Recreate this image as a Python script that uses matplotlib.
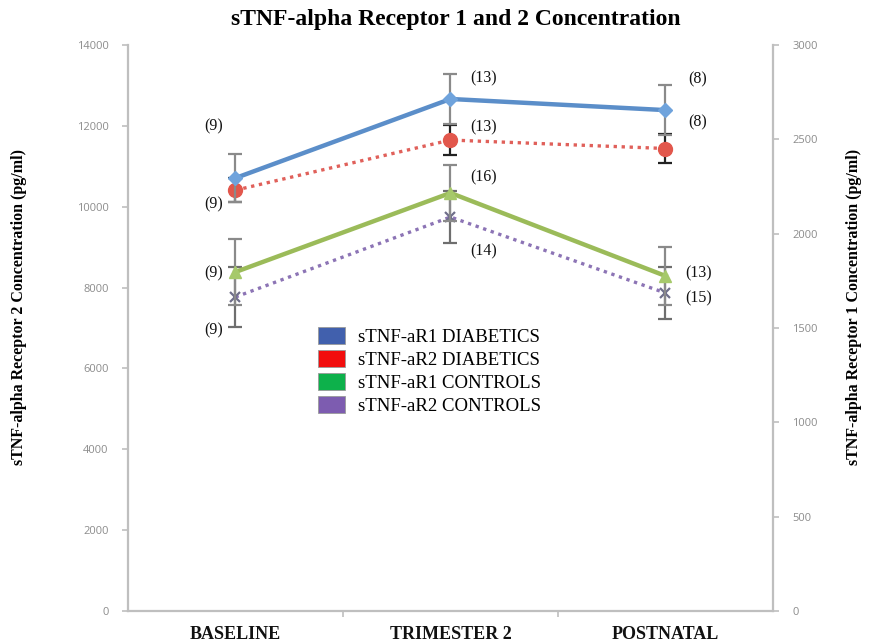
#!/usr/bin/env python3
"""
Line chart of soluble TNF-alpha receptor 1 and 2 concentrations across
pregnancy (baseline, trimester 2, postnatal) for diabetics and controls.

Receptor 2 series are read on the left axis, receptor 1 on the right axis.

Output
------
- out.png
"""

from __future__ import annotations

import matplotlib
matplotlib.use("Agg")
import matplotlib.pyplot as plt
from matplotlib.patches import Patch

# ── Data ────────────────────────────────────────────────────────────────
TIMEPOINTS = ["BASELINE", "TRIMESTER 2", "POSTNATAL"]

# Receptor 1 (right axis, pg/ml)
R1_DIABETICS = [2295, 2714, 2655]
R1_DIABETICS_ERR = [127, 133, 132]
R1_DIABETICS_N = ["(9)", "(13)", "(8)"]

R1_CONTROLS = [1797, 2216, 1776]
R1_CONTROLS_ERR = [175, 148, 154]
R1_CONTROLS_N = ["(9)", "(16)", "(13)"]

# Receptor 2 (left axis, pg/ml)
R2_DIABETICS = [10410, 11650, 11440]
R2_DIABETICS_ERR = [300, 360, 360]
R2_DIABETICS_N = ["(9)", "(13)", "(8)"]

R2_CONTROLS = [7767, 9746, 7866]
R2_CONTROLS_ERR = [740, 640, 650]
R2_CONTROLS_N = ["(9)", "(14)", "(15)"]

LEGEND_LABELS = [
    "sTNF-aR1 DIABETICS",
    "sTNF-aR2 DIABETICS",
    "sTNF-aR1 CONTROLS",
    "sTNF-aR2 CONTROLS",
]

# ── Styling ─────────────────────────────────────────────────────────────
FIG_W, FIG_H, DPI = 8.69, 6.44, 100
SERIF = "Liberation Serif"
TICK_FONT = "Open Sans"
AXIS_GREY = "#bfbfbf"
TICK_GREY = "#8c8c8c"

BLUE_LINE = "#5b8ec9"
RED_LINE = "#e0605a"
GREEN_LINE = "#9bbb59"
PURPLE_LINE = "#8c74b5"

LEGEND_COLORS = ["#4160ad", "#f20d0d", "#0db14b", "#7d5cb0"]

DOTTED = (0, (1, 1.4))


def style_axes(ax, ax2) -> None:
    for a in (ax, ax2):
        a.spines["top"].set_visible(False)
        for side in ("left", "right", "bottom"):
            a.spines[side].set_color(AXIS_GREY)
            a.spines[side].set_linewidth(1.6)
    ax.spines["right"].set_visible(False)
    ax2.spines["left"].set_visible(False)
    ax2.spines["bottom"].set_visible(False)

    ax.set_xlim(-0.5, 2.5)
    ax.set_ylim(0, 14000)
    ax2.set_ylim(0, 3000)
    ax.set_yticks(range(0, 14001, 2000))
    ax2.set_yticks(range(0, 3001, 500))

    # category labels centred, tick marks on the category boundaries
    ax.set_xticks(range(len(TIMEPOINTS)))
    ax.set_xticklabels(TIMEPOINTS, fontsize=13, fontweight="bold",
                       family=SERIF, color="#111111")
    ax.set_xticks([0.5, 1.5], minor=True)
    ax.tick_params(axis="x", which="major", length=0, pad=11)
    ax.tick_params(axis="x", which="minor", length=4, width=1.2,
                   color=AXIS_GREY, direction="out")

    for a in (ax, ax2):
        a.tick_params(axis="y", length=4, width=1.2, color=AXIS_GREY,
                      labelsize=8, labelcolor=TICK_GREY, pad=10)
        for lbl in a.get_yticklabels():
            lbl.set_family(TICK_FONT)

    ax.set_ylabel("sTNF-alpha Receptor 2 Concentration (pg/ml)",
                  fontsize=11.5, fontweight="bold", family=SERIF)
    ax.yaxis.set_label_coords(-0.157, 0.537)
    ax2.set_ylabel("sTNF-alpha Receptor 1 Concentration (pg/ml)",
                   fontsize=11.5, fontweight="bold", family=SERIF,
                   rotation=90)
    ax2.yaxis.set_label_coords(1.113, 0.537)


def draw_series(ax, ax2) -> None:
    x = list(range(len(TIMEPOINTS)))

    ax.errorbar(x, R2_CONTROLS, yerr=R2_CONTROLS_ERR, color=PURPLE_LINE,
                ls=DOTTED, lw=2.4, marker="x", ms=7, mew=1.6, mec="#6f6f8a",
                ecolor="#6e6e6e", elinewidth=1.6, capsize=5, capthick=1.6,
                zorder=3)
    ax.errorbar(x, R2_DIABETICS, yerr=R2_DIABETICS_ERR, color=RED_LINE,
                ls=DOTTED, lw=2.4, marker="o", ms=10, mfc="#e2574c",
                mec="#e2574c", ecolor="#222222", elinewidth=1.6, capsize=5,
                capthick=1.6, zorder=4)

    ax2.errorbar(x, R1_CONTROLS, yerr=R1_CONTROLS_ERR, color=GREEN_LINE,
                 ls="-", lw=3.2, marker="^", ms=9, mfc="#a6c96a",
                 mec="#a6c96a", ecolor="#8a8a8a", elinewidth=1.6, capsize=5,
                 capthick=1.6, zorder=3)
    ax2.errorbar(x, R1_DIABETICS, yerr=R1_DIABETICS_ERR, color=BLUE_LINE,
                 ls="-", lw=3.2, marker="D", ms=7, mfc="#6fa3dc",
                 mec="#6fa3dc", ecolor="#8a8a8a", elinewidth=1.6, capsize=5,
                 capthick=1.6, zorder=4)


def draw_counts(ax, ax2) -> None:
    txt = dict(fontsize=11.5, family=SERIF, color="#111111",
               textcoords="offset points", va="center", ha="center")

    # (dx, dy) offsets in points from each marker
    r1d_off = [(-16, 37), (24, 15), (23, 22)]
    r2d_off = [(-16, -10), (24, 9), (23, 19)]
    r1c_off = [(-16, -1), (24, 11), (24, 2)]
    r2c_off = [(-16, -24), (24, -25), (24, -4)]

    for i in range(len(TIMEPOINTS)):
        ax2.annotate(R1_DIABETICS_N[i], (i, R1_DIABETICS[i]),
                     xytext=r1d_off[i], **txt)
        ax.annotate(R2_DIABETICS_N[i], (i, R2_DIABETICS[i]),
                    xytext=r2d_off[i], **txt)
        ax2.annotate(R1_CONTROLS_N[i], (i, R1_CONTROLS[i]),
                     xytext=r1c_off[i], **txt)
        ax.annotate(R2_CONTROLS_N[i], (i, R2_CONTROLS[i]),
                    xytext=r2c_off[i], **txt)


def main() -> None:
    fig, ax = plt.subplots(figsize=(FIG_W, FIG_H), dpi=DPI)
    fig.subplots_adjust(left=0.1473, right=0.8895, bottom=0.0512, top=0.9301)
    ax2 = ax.twinx()

    style_axes(ax, ax2)
    draw_series(ax, ax2)
    draw_counts(ax, ax2)

    handles = [Patch(facecolor=c, edgecolor="#9a9a9a", linewidth=0.6)
               for c in LEGEND_COLORS]
    fig.legend(handles, LEGEND_LABELS, loc="upper left",
               bbox_to_anchor=(318 / 869, 1 - 327 / 644), frameon=False,
               prop={"family": SERIF, "size": 13.5}, handlelength=1.44,
               handleheight=1.05, labelspacing=0.2, handletextpad=0.7,
               borderpad=0, borderaxespad=0)

    fig.text(0.525, 1 - 20 / 644, "sTNF-alpha Receptor 1 and 2 Concentration",
             ha="center", va="center", fontsize=17, fontweight="bold",
             family=SERIF)

    fig.savefig("out.png", dpi=DPI)
    plt.close(fig)


if __name__ == "__main__":
    main()
